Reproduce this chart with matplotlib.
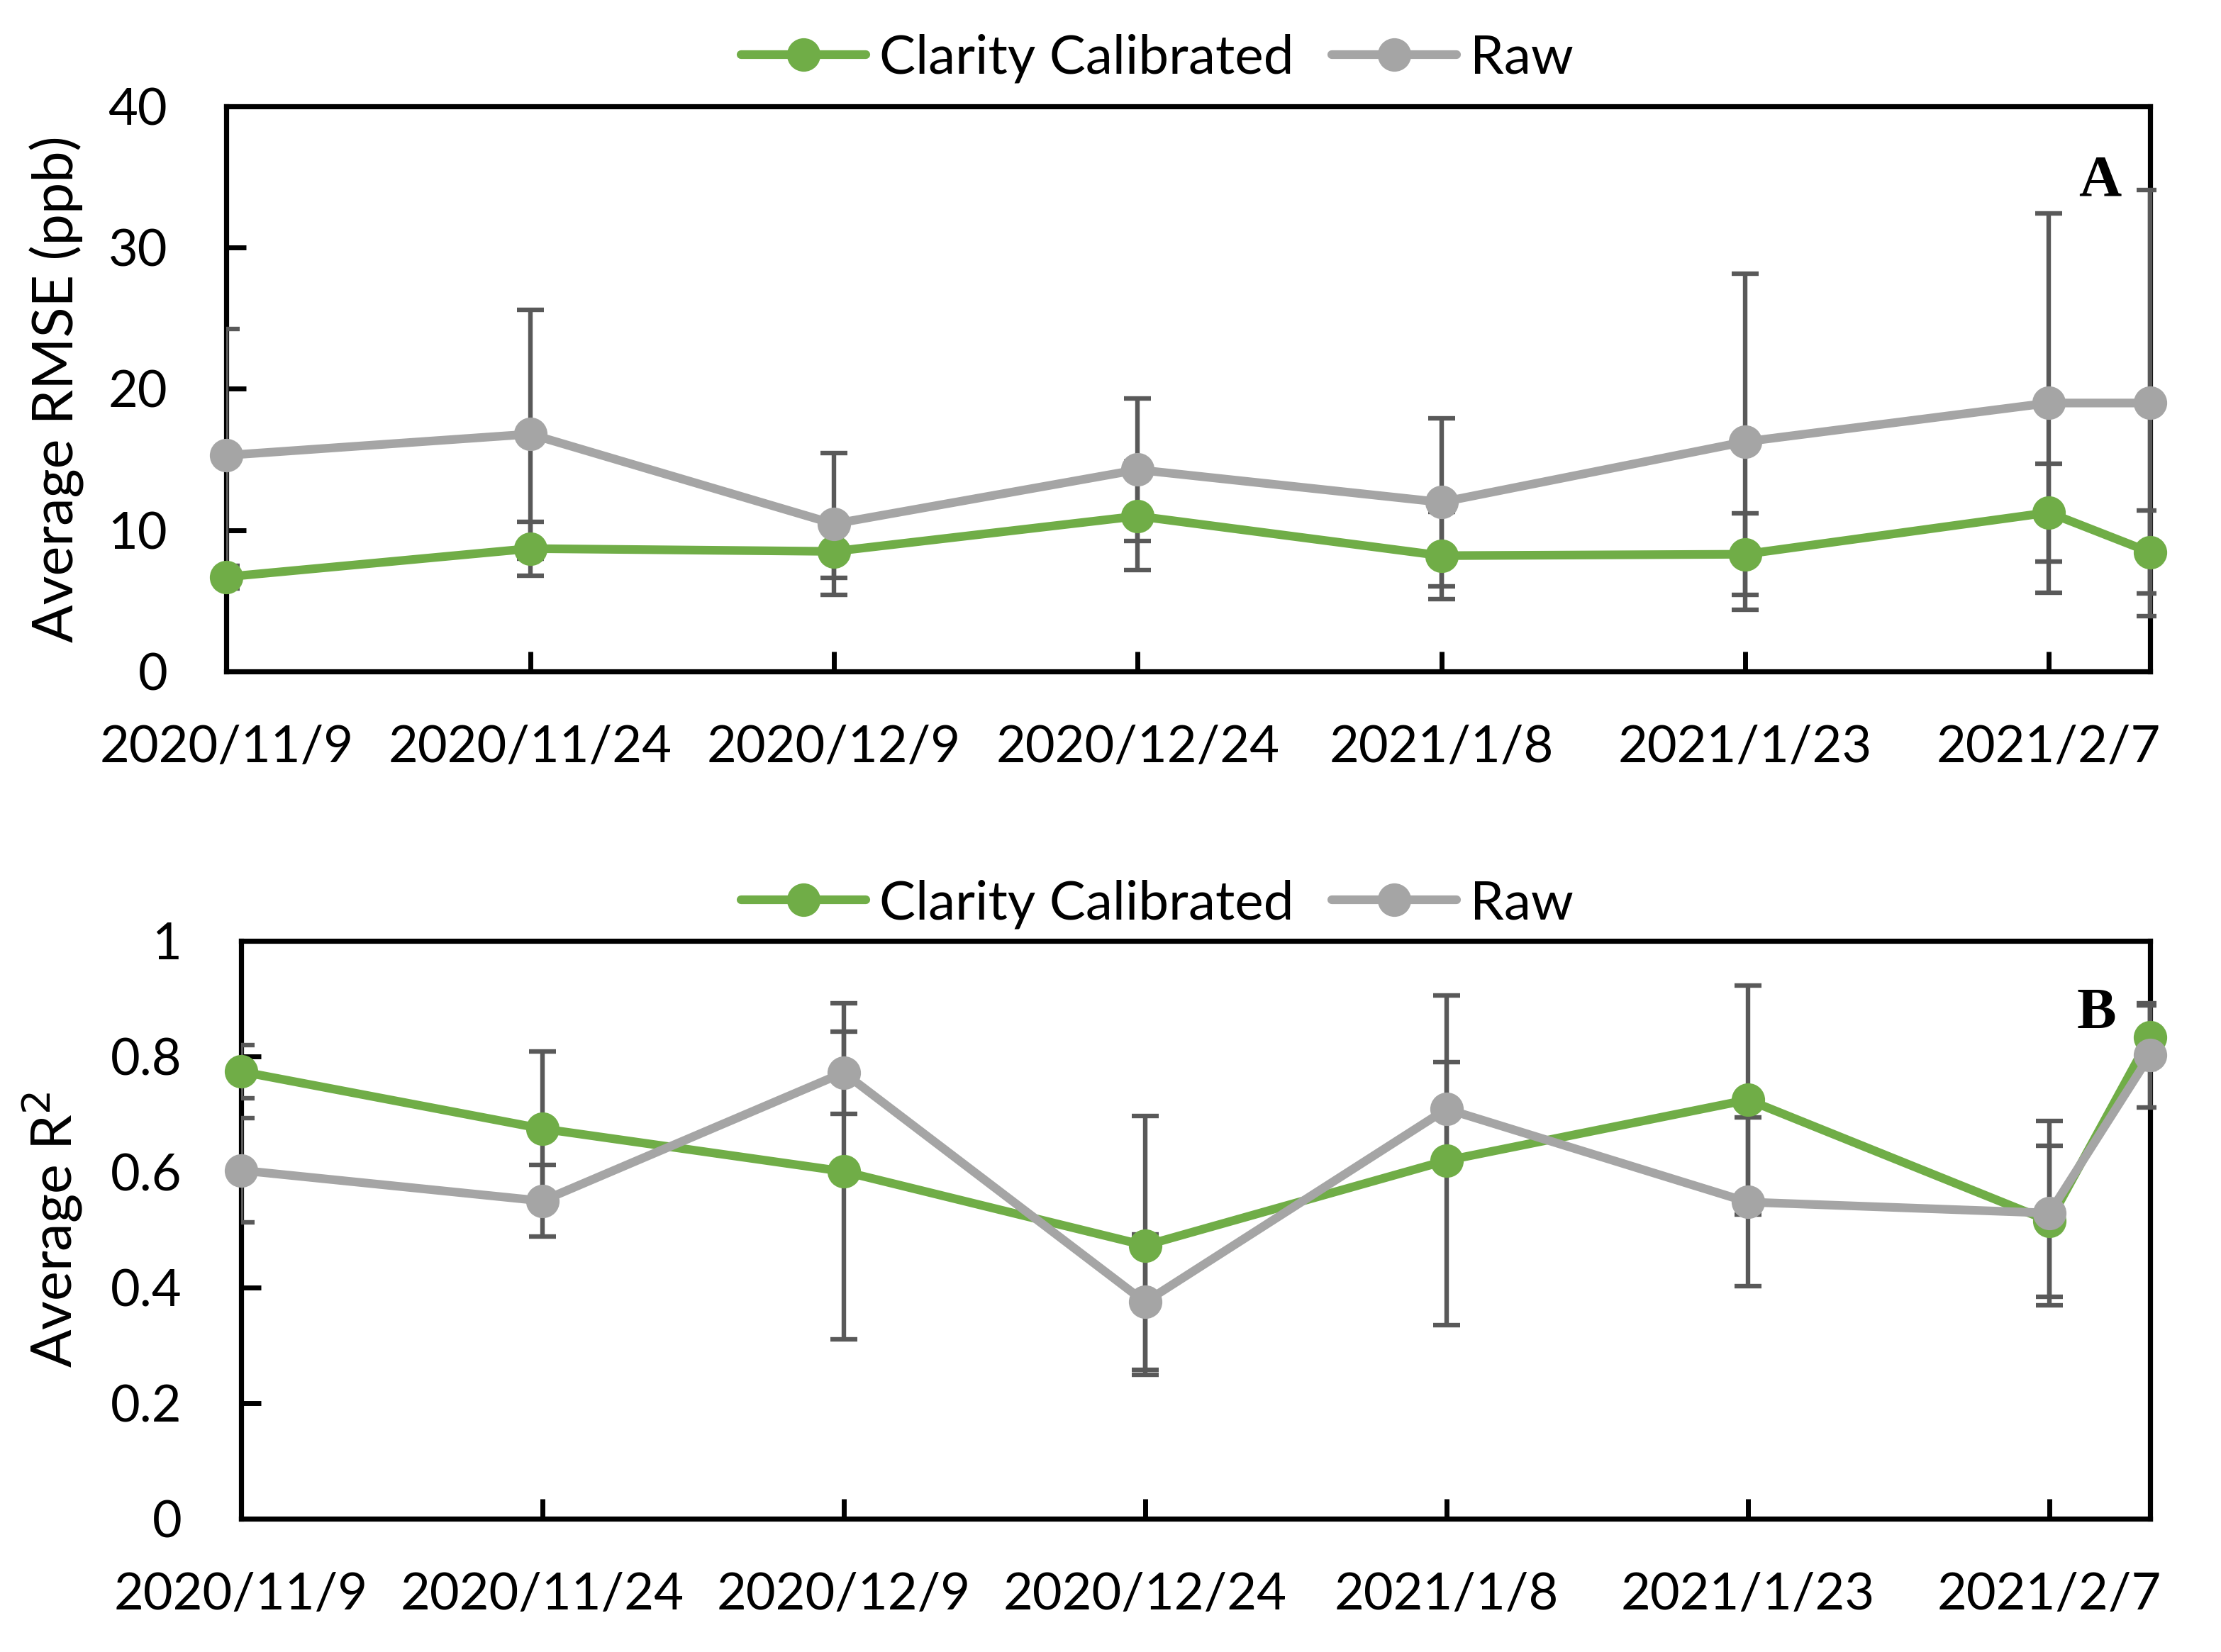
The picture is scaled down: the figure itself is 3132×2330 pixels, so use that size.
import matplotlib
matplotlib.use("Agg")
import matplotlib.pyplot as plt
from matplotlib.patches import Rectangle
from matplotlib.lines import Line2D
import pandas as pd

# ---------------- data ----------------
dates = ['2020-11-09', '2020-11-24', '2020-12-09', '2020-12-24',
         '2021-01-08', '2021-01-23', '2021-02-07', '2021-02-12']
tick_dates = ['2020-11-09', '2020-11-24', '2020-12-09', '2020-12-24',
              '2021-01-08', '2021-01-23', '2021-02-07']
tick_labels = ['2020/11/9', '2020/11/24', '2020/12/9', '2020/12/24',
               '2021/1/8', '2021/1/23', '2021/2/7']

rmse_cal = [6.7, 8.7, 8.5, 11.0, 8.2, 8.3, 11.25, 8.45]
rmse_cal_err = [0.8, 1.9, 1.86, 3.84, 3.1, 2.87, 3.47, 2.93]
rmse_raw = [15.3, 16.8, 10.45, 14.28, 11.98, 16.26, 19.0, 19.0]
rmse_raw_err = [8.95, 8.8, 5.0, 5.05, 5.94, 11.89, 13.4, 15.06]

r2_cal = [0.774, 0.675, 0.601, 0.473, 0.620, 0.725, 0.515, 0.833]
r2_cal_err = [0.046, 0.134, 0.291, 0.224, 0.285, 0.198, 0.131, 0.055]
r2_raw = [0.603, 0.550, 0.772, 0.375, 0.709, 0.548, 0.529, 0.802]
r2_raw_err = [0.09, 0.062, 0.071, 0.117, 0.081, 0.146, 0.159, 0.09]

series_names = ['Clarity Calibrated', 'Raw']

# ---------------- style ----------------
GREEN = '#70AD47'
GRAY = '#A5A5A5'
ERR = '#595959'
FONT = ['Lato', 'DejaVu Sans']
FS = 26

plt.rcParams['font.family'] = FONT
plt.rcParams['font.size'] = FS

x = pd.to_datetime(dates)
xt = pd.to_datetime(tick_dates)

fig = plt.figure(figsize=(15.66, 11.65), dpi=200)
ax1 = fig.add_axes([0.102, 0.5935, 0.866, 0.3422])
ax2 = fig.add_axes([0.1084, 0.0806, 0.8596, 0.3499])


def draw(ax, cal, cal_err, raw, raw_err, ylim, yticks, yticklabels, ylabel,
         letter, letter_xy, legend_y, label_x):
    clip = Rectangle((0, -0.2), 1.003, 1.4, transform=ax.transAxes,
                     facecolor='none', edgecolor='none')
    ax.add_patch(clip)
    for vals, errs in ((cal, cal_err), (raw, raw_err)):
        eb = ax.errorbar(x, vals, yerr=errs, fmt='none', ecolor=ERR,
                         elinewidth=2.3, capsize=7, capthick=2.3, zorder=2.6)
        for art in list(eb.lines[1]) + list(eb.lines[2]):
            art.set_clip_path(clip)
    ax.plot(x, cal, color=GREEN, lw=4.4, marker='o', ms=17,
            markeredgewidth=0, zorder=3, clip_on=False,
            solid_joinstyle='round')
    ax.plot(x, raw, color=GRAY, lw=4.4, marker='o', ms=17,
            markeredgewidth=0, zorder=4, clip_on=False,
            solid_joinstyle='round')

    ax.set_xlim(x[0], x[-1])
    ax.set_ylim(*ylim)
    ax.set_xticks(xt)
    ax.set_xticklabels(tick_labels)
    ax.set_yticks(yticks)
    ax.set_yticklabels(yticklabels)
    ax.tick_params(axis='both', direction='in', length=10, width=2.5,
                   labelsize=FS, color='black')
    ax.tick_params(axis='x', pad=27)
    ax.tick_params(axis='y', pad=30)
    for sp in ax.spines.values():
        sp.set_linewidth(2.6)
        sp.set_color('black')
    ax.set_ylabel(ylabel, fontsize=28.5)
    ax.yaxis.set_label_coords(label_x, 0.5)
    ax.text(letter_xy[0], letter_xy[1], letter, transform=ax.transAxes,
            ha='center', va='center', fontsize=30, fontweight='bold',
            family=['Liberation Serif', 'DejaVu Serif'])

    handles = [Line2D([], [], color=GREEN, lw=4.4, marker='o', ms=17,
                      markeredgewidth=0, solid_capstyle='round'),
               Line2D([], [], color=GRAY, lw=4.4, marker='o', ms=17,
                      markeredgewidth=0, solid_capstyle='round')]
    fig.legend(handles, series_names, loc='center',
               bbox_to_anchor=(0.521, legend_y), ncol=2, frameon=False,
               fontsize=27.5, handlelength=2.3, handletextpad=0.25,
               columnspacing=0.7, borderaxespad=0)


draw(ax1, rmse_cal, rmse_cal_err, rmse_raw, rmse_raw_err, (0, 40),
     [0, 10, 20, 30, 40], ['0', '10', '20', '30', '40'],
     'Average RMSE (ppb)', 'A', (0.974, 0.867), 0.9648, -0.074)
draw(ax2, r2_cal, r2_cal_err, r2_raw, r2_raw_err, (0, 1),
     [0, 0.2, 0.4, 0.6, 0.8, 1.0], ['0', '0.2', '0.4', '0.6', '0.8', '1'],
     'Average R$^2$', 'B', (0.972, 0.873), 0.4528, -0.082)

fig.savefig('out.png', dpi=200)
